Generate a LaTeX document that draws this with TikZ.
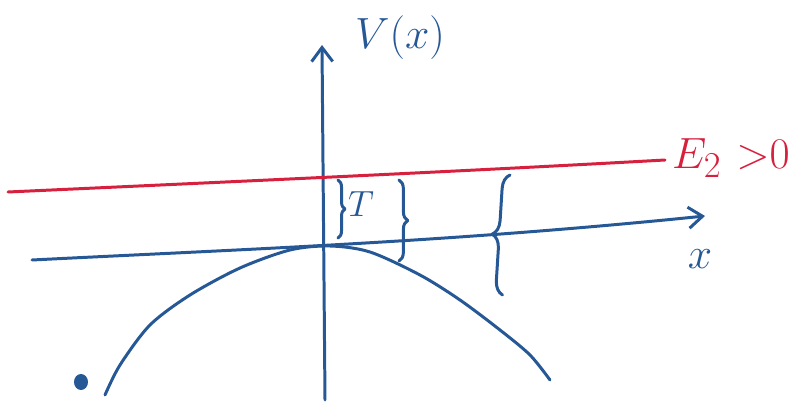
\documentclass[tikz,border=0pt]{standalone}
\usepackage{amsmath}
\usepackage{xcolor}
\usepackage{tikz}
\usetikzlibrary{arrows.meta,positioning,calc,decorations.pathreplacing}

\definecolor{inkblue}{RGB}{38,88,150}
\definecolor{inkred}{RGB}{214,32,62}

\begin{document}
\begin{tikzpicture}[
  line cap=round, line join=round,
  ink/.style={draw=inkblue, line width=1.7pt},
  axarr/.style={ink, -{Straight Barb[length=8pt,width=12pt,line width=1.7pt]}},
  level/.style={draw=inkred, line width=1.7pt},
  brc/.style={ink, decorate, decoration={brace, amplitude=#1}},
  lbl/.style={text=inkblue, inner sep=1pt, font=\fontsize{30}{34}\selectfont},
  rlbl/.style={text=inkred, inner sep=1pt, font=\fontsize{28}{32}\selectfont}
]
\useasboundingbox (0,0) rectangle (16.22,8.14);

% axes
\coordinate (vbot) at (6.5,0.14);
\coordinate (vtop) at (6.44,7.24);
\coordinate (hleft) at (0.64,2.94);
\coordinate (hright) at (14.1,3.82);
\draw[axarr] (vbot) -- (vtop);
\draw[axarr] (hleft) .. controls (5,3.16) and (9,3.3) .. (hright);

\node[lbl] (vlab) at (8.0,7.38) {$V(x)$};
\node[lbl] (xlab) at (14.0,2.95) {$x$};

% energy level
\coordinate (eleft) at (0.16,4.3);
\coordinate (eright) at (13.3,4.94);
\draw[level] (eleft) .. controls (4.5,4.5) and (9,4.7) .. (eright);
\node[rlbl, anchor=west] (elab) at (13.4,4.98) {$E_2\ {>}0$};

% inverted parabola
\draw[ink] plot[smooth] coordinates {(2.1,0.24) (2.4,0.84) (3,1.64) (3.8,2.24) (4.8,2.78)
  (5.8,3.14) (6.6,3.22) (7.4,3.1) (8.4,2.64) (9.2,2.14) (10,1.54) (10.6,1.04) (11,0.54)};
\fill[inkblue] (1.62,0.5) ellipse (0.14 and 0.16);

% braces
\draw[brc=4pt] (6.76,4.54) -- (6.76,3.38);
\node[lbl, font=\fontsize{20}{24}\selectfont] (tlab) at (7.22,4.06) {$T$};
\draw[brc=5pt] (7.98,4.54) -- (7.98,2.92);
\draw[brc=8pt] (10.05,2.24) -- (10.2,4.64);

\end{tikzpicture}
\end{document}
